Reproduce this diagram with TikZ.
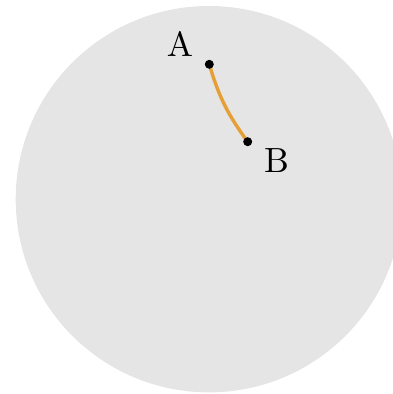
\documentclass[tikz,border=0pt]{standalone}
\definecolor{diskgray}{RGB}{229,229,229}
\definecolor{geoorange}{RGB}{230,159,52}
\font\labelrm=cmr10 at 35pt
\tikzset{
  ptdot/.style={circle, fill=black, inner sep=0pt, minimum size=9pt},
  ptlabel/.style={anchor=base, inner sep=0pt, font=\labelrm},
  geodesic/.style={draw=geoorange, line width=3.4pt, line cap=round}
}
\begin{document}
\begin{tikzpicture}[x=1pt,y=1pt]
\clip (0,0) rectangle (393,394);
\useasboundingbox (0,0) rectangle (393,394);
\fill[diskgray] (208.9,194.8) circle[radius=193.2pt];
\coordinate (Ac) at (209.3,329.7);
\coordinate (Bc) at (247.7,252.3);
\path[geodesic] (Ac) to[bend right=10] (Bc);
\node[ptdot] (A) at (Ac) {};
\node[ptdot] (B) at (Bc) {};
\node[ptlabel] (LA) at (180,337) {A};
\node[ptlabel] (LB) at (276.5,221) {B};
\end{tikzpicture}
\end{document}
